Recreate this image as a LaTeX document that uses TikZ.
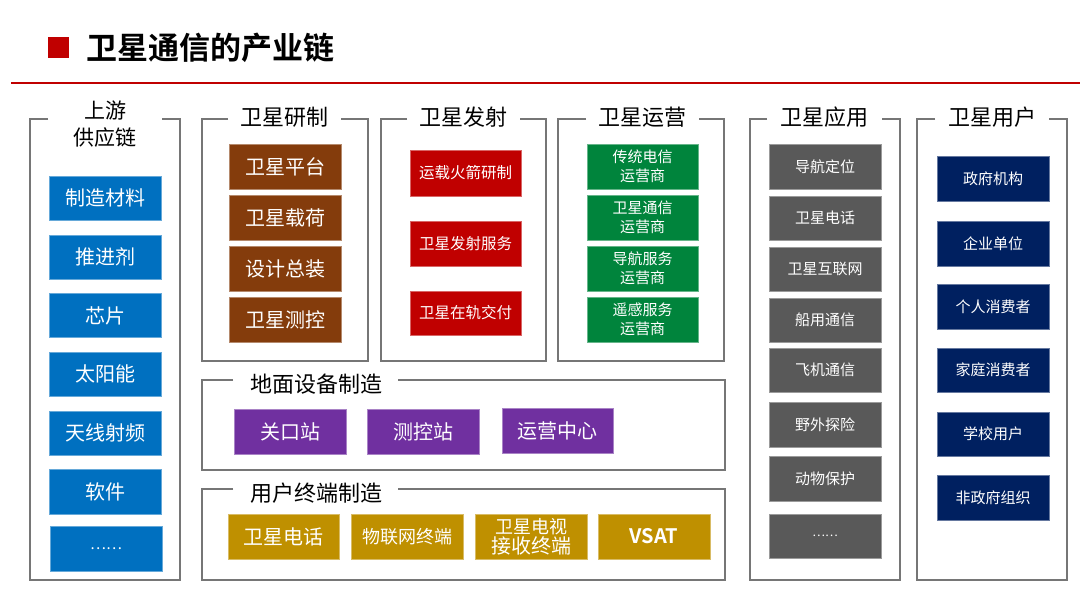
\documentclass[tikz,border=0pt]{standalone}
\usepackage{fontspec}
\setmainfont{Noto Sans CJK SC}
\newfontfamily\cjkbold{Noto Sans CJK SC Bold}
\definecolor{cBlue}{HTML}{0070C0}
\definecolor{cBrown}{HTML}{843C0C}
\definecolor{cRed}{HTML}{C00000}
\definecolor{cGreen}{HTML}{00843C}
\definecolor{cGray}{HTML}{595959}
\definecolor{cNavy}{HTML}{002060}
\definecolor{cPurple}{HTML}{7030A0}
\definecolor{cGold}{HTML}{BF9000}
\definecolor{cLine}{HTML}{767676}
\newcommand\fs[1]{\fontsize{#1}{#1}\selectfont}
\newcommand\bx[7]{\node[#2, minimum width={#4-#3}, minimum height={#6-#5}] (#1) at ({(#3+#4)/2},{(#5+#6)/2}) {#7};}
\newcommand\panel[7]{\draw[panelline] (#6,#4) -- (#2,#4) -- (#2,#5) -- (#3,#5) -- (#3,#4) -- (#7,#4);}
\tikzset{
  panelline/.style={draw=cLine, line width=1.5pt},
  ptitle/.style={text=black, font=\fs{22}, inner sep=0pt},
  basebox/.style={inner sep=0pt, outer sep=0pt, text=white, align=center},
  bluebox/.style={basebox, fill=cBlue, draw=cBlue!60!white, line width=0.6pt, font=\fs{20}},
  brownbox/.style={basebox, fill=cBrown, draw=cBrown!60!white, line width=0.6pt, font=\fs{20}},
  redbox/.style={basebox, fill=cRed, draw=cRed!60!white, line width=0.6pt, font=\fs{15.5}},
  greenbox/.style={basebox, fill=cGreen, draw=cGreen!60!white, line width=0.6pt, font=\fontsize{15}{19}\selectfont},
  graybox/.style={basebox, fill=cGray, draw=cGray!60!white, line width=0.6pt, font=\fs{15}},
  navybox/.style={basebox, fill=cNavy, draw=cNavy!60!white, line width=0.6pt, font=\fs{15}},
  purplebox/.style={basebox, fill=cPurple, draw=cPurple!60!white, line width=0.6pt, font=\fs{20}},
  goldbox/.style={basebox, fill=cGold, draw=cGold!60!white, line width=0.6pt, font=\fs{20}},
}
\begin{document}
\begin{tikzpicture}[x=1pt, y=-1pt]
\useasboundingbox[fill=white] (0,0) rectangle (1080,607);
% header
\node[fill=cRed, minimum width=21pt, minimum height=21pt, inner sep=0pt] (sq) at (58.5,47.5) {};
\node[anchor=west, inner sep=0pt, font=\cjkbold\fs{31}] (title) at (86,47.5) {卫星通信的产业链};
\coordinate (ruleL) at (11,83);
\coordinate (ruleR) at (1080,83);
\draw[cRed, line width=2pt] (ruleL) -- (ruleR);
% panels
\panel{p1}{30}{180}{119}{580}{48}{162}
\node[ptitle, font=\fs{21}] (t1a) at (105,111) {上游};
\node[ptitle, font=\fs{21}] (t1b) at (105,138) {供应链};
\panel{p2}{202}{368}{119}{361}{228}{341}
\node[ptitle] (t2) at (284.5,117) {卫星研制};
\panel{p3}{381}{546}{119}{361}{407}{520}
\node[ptitle] (t3) at (463.5,117) {卫星发射};
\panel{p4}{558}{724}{119}{361}{586}{699}
\node[ptitle] (t4) at (642.5,117) {卫星运营};
\panel{p5}{202}{725}{380}{470}{233}{398}
\node[ptitle] (t5) at (316,384) {地面设备制造};
\panel{p6}{202}{725}{489}{580}{233}{398}
\node[ptitle] (t6) at (316,493) {用户终端制造};
\panel{p7}{750}{900}{119}{580}{767}{882}
\node[ptitle] (t7) at (824.5,117) {卫星应用};
\panel{p8}{917}{1067}{119}{580}{935}{1049}
\node[ptitle] (t8) at (992,117) {卫星用户};
% supply chain
\bx{b1}{bluebox}{49}{161}{176}{220}{制造材料}
\bx{b2}{bluebox}{49}{161}{235}{279}{推进剂}
\bx{b3}{bluebox}{49}{161}{293.5}{337.5}{芯片}
\bx{b4}{bluebox}{49}{161}{352}{396.5}{太阳能}
\bx{b5}{bluebox}{49}{161}{411}{455}{天线射频}
\bx{b6}{bluebox}{49}{161}{469}{514}{软件}
\bx{b7}{bluebox}{50}{162}{526}{571}{\fs{15}……}
% R&D
\bx{r1}{brownbox}{229}{341}{144}{189}{卫星平台}
\bx{r2}{brownbox}{229}{341}{195}{240}{卫星载荷}
\bx{r3}{brownbox}{229}{341}{246}{291}{设计总装}
\bx{r4}{brownbox}{229}{341}{297}{342}{卫星测控}
% launch
\bx{l1}{redbox}{410}{521}{150}{196}{运载火箭研制}
\bx{l2}{redbox}{410}{521}{221}{266}{卫星发射服务}
\bx{l3}{redbox}{410}{521}{291}{335}{卫星在轨交付}
% operation
\bx{o1}{greenbox}{587}{698}{144}{189}{传统电信\\运营商}
\bx{o2}{greenbox}{587}{698}{195}{240}{卫星通信\\运营商}
\bx{o3}{greenbox}{587}{698}{246}{291}{导航服务\\运营商}
\bx{o4}{greenbox}{587}{698}{297}{342}{遥感服务\\运营商}
% ground
\bx{g1}{purplebox}{234}{346}{409}{454}{关口站}
\bx{g2}{purplebox}{367}{479}{409}{454}{测控站}
\bx{g3}{purplebox}{502}{613}{408}{453}{运营中心}
% terminals
\bx{u1}{goldbox}{228}{339}{514}{559}{卫星电话}
\bx{u2}{goldbox}{351}{463}{514}{559}{\fs{18}物联网终端}
\bx{u3}{goldbox}{475}{587}{514}{559}{\fontsize{18}{21}\selectfont 卫星电视\\接收终端}
\bx{u4}{goldbox}{598}{710}{514}{559}{\cjkbold VSAT}
% applications
\bx{a1}{graybox}{769}{881}{144}{189}{导航定位}
\bx{a2}{graybox}{769}{881}{196}{240}{卫星电话}
\bx{a3}{graybox}{769}{881}{247}{291}{卫星互联网}
\bx{a4}{graybox}{769}{881}{298}{342}{船用通信}
\bx{a5}{graybox}{769}{881}{348}{392}{飞机通信}
\bx{a6}{graybox}{769}{881}{402}{447}{野外探险}
\bx{a7}{graybox}{769}{881}{456}{501}{动物保护}
\bx{a8}{graybox}{769}{881}{514}{558}{\fs{12}……}
% users
\bx{n1}{navybox}{937}{1049}{156}{201}{政府机构}
\bx{n2}{navybox}{937}{1049}{221}{266}{企业单位}
\bx{n3}{navybox}{937}{1049}{284}{329}{个人消费者}
\bx{n4}{navybox}{937}{1049}{348}{392}{家庭消费者}
\bx{n5}{navybox}{937}{1049}{412}{456}{学校用户}
\bx{n6}{navybox}{937}{1049}{475}{520}{非政府组织}
\end{tikzpicture}
\end{document}
